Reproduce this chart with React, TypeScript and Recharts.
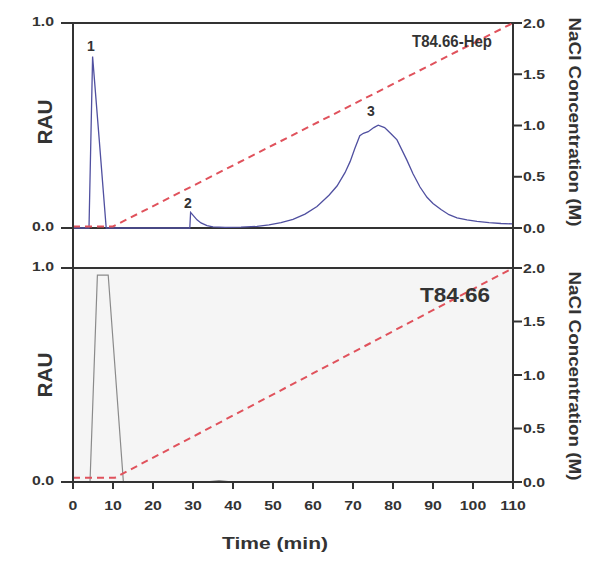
import React from 'react';
import {
  ComposedChart,
  Line,
  XAxis,
  YAxis,
  ReferenceLine,
  ReferenceArea,
  ReferenceDot,
} from 'recharts';

const FONT = '"Liberation Sans", Arial, Helvetica, sans-serif';
const INK = '#333333';

// ---- Top panel: T84.66-Hep absorbance trace (RAU) ----
const hepTime = [
  0, 4.0, 4.9, 6.6, 8.3, 29.2, 29.4, 30.2, 31.0, 32.0, 33.5, 35, 38, 42, 46, 49, 52, 55, 58, 61,
  64, 66, 68, 69.3, 70.5, 71.7, 72.6, 73.8, 75.2, 76.3, 77.9, 79.5, 81, 83.5, 85, 86.75, 88.5,
  90, 92, 94, 96, 98.5, 101, 104, 107, 110,
];
const hepRau = [
  0, 0, 0.836, 0.42, 0, 0, 0.076, 0.058, 0.04, 0.025, 0.012, 0.006, 0.003, 0.004, 0.008, 0.015,
  0.026, 0.042, 0.068, 0.105, 0.16, 0.205, 0.27, 0.325, 0.39, 0.45, 0.462, 0.47, 0.49, 0.502,
  0.49, 0.46, 0.43, 0.33, 0.265, 0.2, 0.15, 0.12, 0.09, 0.065, 0.05, 0.04, 0.032, 0.026, 0.022,
  0.02,
];

// ---- Bottom panel: T84.66 absorbance trace (RAU) ----
const t8466Time = [0, 4.25, 6.1, 8.8, 12.6, 33, 36.5, 40, 110];
const t8466Rau = [0, 0, 0.967, 0.967, 0, 0, 0.006, 0, 0];

// ---- NaCl gradients (M) ----
const topNaclTime = [0, 10, 110];
const topNaclConc = [0.015, 0.015, 2.0];
const botNaclTime = [0, 10.5, 110];
const botNaclConc = [0.04, 0.04, 2.0];

// ---- Ticks and labels ----
const xTicks = [0, 10, 20, 30, 40, 50, 60, 70, 80, 90, 100, 110];
const rauTicks = [0, 1];
const naclTicks = [0, 0.5, 1, 1.5, 2];
const peakNames = ['1', '2', '3'];
const peakTimes = [4.5, 28.75, 74.5];
const peakLabelRau = [0.865, 0.098, 0.548];
const topPanelName = 'T84.66-Hep';
const botPanelName = 'T84.66';

const zip = (xs: number[], ys: number[]) => xs.map((t, i) => ({ t, v: ys[i] }));
const hepData = zip(hepTime, hepRau);
const t8466Data = zip(t8466Time, t8466Rau);
const topNacl = zip(topNaclTime, topNaclConc);
const botNacl = zip(botNaclTime, botNaclConc);

const textStyle = { fontFamily: FONT, fontWeight: 700 as const, fill: INK };

const LeftTick = (props: any) => {
  const { x, y, payload } = props;
  return (
    <g transform={`translate(${x},${y})`}>
      <text {...textStyle} fontSize={13} textAnchor="end" dy={2.5} transform="scale(1.22,1)">
        {Number(payload.value).toFixed(1)}
      </text>
    </g>
  );
};

const RightTick = (props: any) => {
  const { x, y, payload } = props;
  return (
    <g transform={`translate(${x},${y})`}>
      <text {...textStyle} fontSize={13} textAnchor="start" dy={4.5} transform="scale(1.22,1)">
        {Number(payload.value).toFixed(1)}
      </text>
    </g>
  );
};

const BottomTick = (props: any) => {
  const { x, y, payload } = props;
  return (
    <g transform={`translate(${x},${y})`}>
      <text {...textStyle} fontSize={13} textAnchor="middle" dy={19} transform="scale(1.22,1)">
        {String(payload.value)}
      </text>
    </g>
  );
};

const rauTitle = (offset: number) => (p: any) => {
  const vb = p.viewBox || {};
  return (
    <text
      {...textStyle}
      fontSize={20}
      textAnchor="middle"
      textLength={45}
      lengthAdjust="spacingAndGlyphs"
      transform={`translate(52,${vb.y + offset}) rotate(-90)`}
    >
      RAU
    </text>
  );
};

const naclTitle = (offset: number) => (p: any) => {
  const vb = p.viewBox || {};
  return (
    <text
      {...textStyle}
      fontSize={16}
      textAnchor="middle"
      textLength={209}
      lengthAdjust="spacingAndGlyphs"
      transform={`translate(568.5,${vb.y + offset}) rotate(90)`}
    >
      NaCl Concentration (M)
    </text>
  );
};

const timeTitle = (p: any) => {
  const vb = p.viewBox || {};
  return (
    <text
      {...textStyle}
      fontSize={17}
      textAnchor="middle"
      textLength={106}
      lengthAdjust="spacingAndGlyphs"
      x={vb.x + 202}
      y={vb.y + 67}
    >
      Time (min)
    </text>
  );
};

const textLabel = (txt: string, size: number, len?: number) => (p: any) => {
  const vb = p.viewBox || {};
  return (
    <text
      {...textStyle}
      fontSize={size}
      textAnchor="middle"
      x={vb.x}
      y={vb.y}
      {...(len ? { textLength: len, lengthAdjust: 'spacingAndGlyphs' } : {})}
    >
      {txt}
    </text>
  );
};

const axisLine = { stroke: INK, strokeWidth: 2 };
const tickLine = { stroke: INK, strokeWidth: 2 };

export default function App() {
  return (
    <div style={{ position: 'absolute', left: 0, top: 0, width: 601, height: 574, background: '#fff' }}>
      {/* Top panel */}
      <div style={{ position: 'absolute', left: 0, top: 0 }}>
        <ComposedChart width={601} height={268} margin={{ top: 23, right: 0, bottom: 0, left: 0 }}>
          <XAxis dataKey="t" type="number" domain={[0, 110]} ticks={xTicks} hide allowDataOverflow />
          <YAxis
            yAxisId="rau"
            type="number"
            width={73}
            domain={[-0.195, 1]}
            ticks={rauTicks}
            allowDataOverflow
            axisLine={axisLine}
            tickLine={tickLine}
            tickSize={12}
            tickMargin={7}
            tick={<LeftTick />}
            label={rauTitle(99)}
          />
          <YAxis
            yAxisId="nacl"
            orientation="right"
            type="number"
            width={88}
            domain={[-0.39, 2]}
            ticks={naclTicks}
            allowDataOverflow
            axisLine={axisLine}
            tickLine={tickLine}
            tickSize={9}
            tickMargin={1}
            tick={<RightTick />}
            label={naclTitle(99)}
          />
          <ReferenceLine yAxisId="rau" y={1} stroke={INK} strokeWidth={2} />
          <ReferenceLine yAxisId="rau" y={0} stroke={INK} strokeWidth={2} />
          <Line
            data={hepData}
            yAxisId="rau"
            dataKey="v"
            type="linear"
            stroke="#5050a0"
            strokeWidth={1.3}
            dot={false}
            isAnimationActive={false}
          />
          <Line
            data={topNacl}
            yAxisId="nacl"
            dataKey="v"
            type="linear"
            stroke="#e0525c"
            strokeWidth={2}
            strokeDasharray="7 5"
            dot={false}
            isAnimationActive={false}
          />
          {peakNames.map((n, i) => (
            <ReferenceDot
              key={n}
              yAxisId="rau"
              x={peakTimes[i]}
              y={peakLabelRau[i]}
              r={0}
              fill="none"
              stroke="none"
              label={textLabel(n, 14)}
            />
          ))}
          <ReferenceDot
            yAxisId="rau"
            x={94.75}
            y={0.883}
            r={0}
            fill="none"
            stroke="none"
            label={textLabel(topPanelName, 17, 80)}
          />
        </ComposedChart>
      </div>

      {/* Bottom panel */}
      <div style={{ position: 'absolute', left: 0, top: 248 }}>
        <ComposedChart width={601} height={326} margin={{ top: 20, right: 0, bottom: 52, left: 0 }}>
          <XAxis
            dataKey="t"
            type="number"
            domain={[0, 110]}
            ticks={xTicks}
            allowDataOverflow
            height={40}
            axisLine={axisLine}
            tickLine={tickLine}
            tickSize={7}
            tickMargin={2}
            tick={<BottomTick />}
            label={timeTitle}
          />
          <YAxis
            yAxisId="rau"
            type="number"
            width={73}
            domain={[0, 1]}
            ticks={rauTicks}
            allowDataOverflow
            axisLine={axisLine}
            tickLine={tickLine}
            tickSize={12}
            tickMargin={7}
            tick={<LeftTick />}
            label={rauTitle(107)}
          />
          <YAxis
            yAxisId="nacl"
            orientation="right"
            type="number"
            width={88}
            domain={[0, 2]}
            ticks={naclTicks}
            allowDataOverflow
            axisLine={axisLine}
            tickLine={tickLine}
            tickSize={9}
            tickMargin={1}
            tick={<RightTick />}
            label={naclTitle(108)}
          />
          <ReferenceArea yAxisId="rau" x1={0} x2={110} y1={0} y2={1} fill="#f5f5f5" fillOpacity={1} stroke="none" />
          <ReferenceLine yAxisId="rau" y={1} stroke={INK} strokeWidth={2} />
          <Line
            data={t8466Data}
            yAxisId="rau"
            dataKey="v"
            type="linear"
            stroke="#8a8a8a"
            strokeWidth={1.2}
            dot={false}
            isAnimationActive={false}
          />
          <Line
            data={botNacl}
            yAxisId="nacl"
            dataKey="v"
            type="linear"
            stroke="#e0525c"
            strokeWidth={2}
            strokeDasharray="7 5"
            dot={false}
            isAnimationActive={false}
          />
          <ReferenceDot
            yAxisId="rau"
            x={95.5}
            y={0.841}
            r={0}
            fill="none"
            stroke="none"
            label={textLabel(botPanelName, 20, 70)}
          />
        </ComposedChart>
      </div>
    </div>
  );
}
